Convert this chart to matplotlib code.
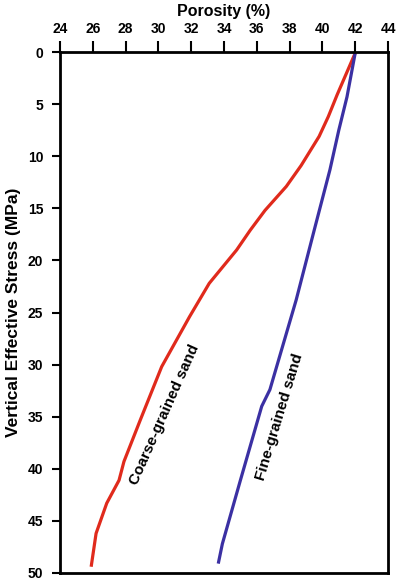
import matplotlib
matplotlib.use("Agg")
import matplotlib.pyplot as plt

plt.rcParams['font.family'] = ['Liberation Sans', 'DejaVu Sans']

coarse_porosity = [42.0, 40.9, 40.36, 39.8, 38.7, 37.8, 36.5, 35.6, 34.77, 33.1, 31.9, 30.2, 28.9, 27.9, 27.6, 26.85, 26.2, 25.9]
coarse_stress = [0.1, 4.1, 6.2, 8.1, 10.9, 12.9, 15.2, 17.1, 19.0, 22.2, 25.4, 30.2, 35.3, 39.3, 41.1, 43.3, 46.2, 49.4]

fine_porosity = [42.0, 41.5, 41.0, 40.46, 39.5, 38.4, 36.8, 36.3, 35.0, 33.9, 33.65]
fine_stress = [0.1, 4.3, 7.5, 11.3, 17.1, 23.8, 32.4, 34.0, 41.1, 47.2, 49.1]

x_ticks = [24, 26, 28, 30, 32, 34, 36, 38, 40, 42, 44]
y_ticks = [0, 5, 10, 15, 20, 25, 30, 35, 40, 45, 50]

fig = plt.figure(figsize=(3.96, 5.8), dpi=100)
ax = fig.add_axes([60/396, 1-573/580, (388-60)/396, (573-52)/580])

ax.plot(coarse_porosity, coarse_stress, color='#e02a1c', lw=2.3, solid_capstyle='butt')
ax.plot(fine_porosity, fine_stress, color='#3b30a3', lw=2.3, solid_capstyle='butt')

ax.set_xlim(24, 44)
ax.set_ylim(50, 0)
ax.xaxis.tick_top()
ax.xaxis.set_label_position('top')
ax.set_xticks(x_ticks)
ax.set_yticks(y_ticks)
ax.set_xticklabels([str(t) for t in x_ticks], fontsize=10, fontweight='bold')
ax.set_yticklabels([str(t) for t in y_ticks], fontsize=10, fontweight='bold')
ax.tick_params(axis='x', direction='out', length=8, width=1.5, pad=3.5)
ax.tick_params(axis='y', direction='out', length=6, width=1.5, pad=6)
for s in ax.spines.values():
    s.set_linewidth(2)
ax.set_xlabel('Porosity (%)', fontsize=11.5, fontweight='bold', labelpad=4.5)
ax.set_ylabel('Vertical Effective Stress (MPa)', fontsize=12.5, fontweight='bold', labelpad=5)

ax.text(30.4, 34.8, 'Coarse-grained sand', rotation=66, ha='center', va='center',
        fontsize=11, fontweight='bold')
ax.text(37.4, 35.0, 'Fine-grained sand', rotation=73, ha='center', va='center',
        fontsize=11, fontweight='bold')

fig.savefig('out.png', dpi=100)
